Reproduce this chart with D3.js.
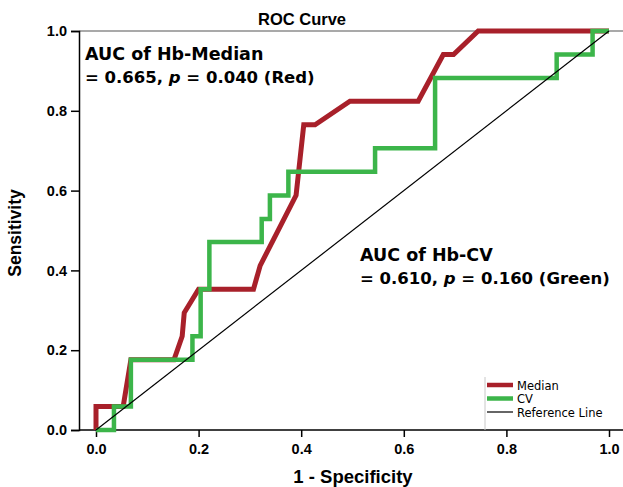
<!DOCTYPE html>
<html>
<head>
<meta charset="utf-8">
<script src="https://cdn.jsdelivr.net/npm/d3@7"></script>
<style>
  body { margin: 0; background: #fff; }
</style>
</head>
<body>
<svg id="roc" width="623" height="487" font-family="Arial, 'Liberation Sans', sans-serif"></svg>
<script>
// ROC data
var medianFpr = [0, 0, 0.053, 0.068, 0.152, 0.168, 0.172, 0.2, 0.307, 0.32, 0.39, 0.405, 0.427, 0.495, 0.628, 0.677, 0.697, 0.745, 1];
var medianTpr = [0, 0.059, 0.059, 0.176, 0.176, 0.235, 0.294, 0.353, 0.353, 0.412, 0.588, 0.765, 0.765, 0.824, 0.824, 0.941, 0.941, 1, 1];

var cvFpr = [0, 0.035, 0.035, 0.068, 0.068, 0.188, 0.188, 0.204, 0.204, 0.221, 0.221, 0.323, 0.323, 0.339, 0.339, 0.375, 0.375, 0.544, 0.544, 0.661, 0.661, 0.898, 0.898, 0.968, 0.968, 1];
var cvTpr = [0, 0, 0.059, 0.059, 0.176, 0.176, 0.235, 0.235, 0.353, 0.353, 0.471, 0.471, 0.529, 0.529, 0.588, 0.588, 0.647, 0.647, 0.706, 0.706, 0.882, 0.882, 0.941, 0.941, 1, 1];

var refFpr = [0, 1];
var refTpr = [0, 1];

var tickValues = [0, 0.2, 0.4, 0.6, 0.8, 1.0];
var legendLabels = ["Median", "CV", "Reference Line"];

var svg = d3.select('#roc');

var xScale = d3.scaleLinear().domain([0, 1]).range([96, 609]),
    yScale = d3.scaleLinear().domain([0, 1]).range([430, 31]);

function pts(xs, ys){ return xs.map(function(d, i){ return [d, ys[i]]; }); }

var line = d3.line()
    .x(function(d){ return xScale(d[0]); })
    .y(function(d){ return yScale(d[1]); });

/* Titulo */
svg.append("text")
    .attr("x", 302)
    .attr("y", 25)
    .attr("text-anchor", "middle")
    .attr("font-size", "16.5px")
    .attr("font-weight", "bold")
    .text("ROC Curve");

// frame: top line
svg.append("line")
    .attr("x1", 79).attr("x2", 623)
    .attr("y1", yScale(1)).attr("y2", yScale(1))
    .attr("stroke", "#8c8c8c").attr("stroke-width", 1.5);

// y axis
var yAxis = svg.append('g')
    .attr('transform', 'translate(79,0)')
    .call(d3.axisLeft(yScale).tickValues(tickValues).tickSize(8).tickFormat(d3.format(".1f")));
yAxis.select(".domain").attr("stroke", "#000").attr("stroke-width", 1.5);
yAxis.selectAll(".tick line").attr("stroke-width", 1.5);
yAxis.selectAll("text")
    .attr("font-size", "14.5px").attr("font-weight", "bold").attr("font-family", "Arial, sans-serif")
    .attr("x", -12).attr("fill", "#000");

// x axis
var xAxis = svg.append('g')
    .attr('transform', 'translate(0,430)')
    .call(d3.axisBottom(xScale).tickValues(tickValues).tickSize(7).tickFormat(d3.format(".1f")));
xAxis.select(".domain").attr("d", "M79,0H623").attr("stroke-width", 1.5);
xAxis.selectAll(".tick line").attr("stroke-width", 1.5);
xAxis.selectAll("text")
    .attr("font-size", "14.5px").attr("font-weight", "bold").attr("font-family", "Arial, sans-serif")
    .attr("y", 14).attr("fill", "#000");

// axis titles
svg.append("text")
    .attr("transform", "translate(21,233) rotate(-90)")
    .attr("text-anchor", "middle")
    .attr("font-size", "17.5px")
    .attr("font-weight", "bold")
    .text("Sensitivity");

svg.append("text")
    .attr("x", 353)
    .attr("y", 483)
    .attr("text-anchor", "middle")
    .attr("font-size", "18.5px")
    .attr("font-weight", "bold")
    .text("1 - Specificity");

// curves
svg.append("path")
    .attr("d", line(pts(medianFpr, medianTpr)))
    .attr("fill", "none").attr("stroke", "#a8202a").attr("stroke-width", 5)
    .attr("stroke-linejoin", "miter");

svg.append("path")
    .attr("d", line(pts(cvFpr, cvTpr)))
    .attr("fill", "none").attr("stroke", "#3cb54a").attr("stroke-width", 4.5)
    .attr("stroke-linejoin", "miter");

svg.append("path")
    .attr("d", line(pts(refFpr, refTpr)))
    .attr("fill", "none").attr("stroke", "#000").attr("stroke-width", 1.2);

// AUC annotations
function annot(x, y, l1, auc, p, col){
    svg.append("text")
        .attr("x", x).attr("y", y)
        .attr("font-size", "17.5px").attr("font-weight", "bold")
        .attr("font-family", "'DejaVu Sans', sans-serif")
        .text(l1);
    var t = svg.append("text")
        .attr("x", x).attr("y", y + 23)
        .attr("font-size", "16.5px").attr("font-weight", "bold")
        .attr("font-family", "'DejaVu Sans', sans-serif");
    t.append("tspan").text("= " + auc + ", ");
    t.append("tspan").attr("font-style", "italic").text("p");
    t.append("tspan").text(" = " + p + " (" + col + ")");
}
annot(85, 60, "AUC of Hb-Median", "0.665", "0.040", "Red");
annot(360, 261, "AUC of Hb-CV", "0.610", "0.160", "Green");

// legend
var legendColors = ["#a8202a", "#3cb54a", "#000"],
    legendWidths = [4.5, 4.5, 1.2];

svg.append("line")
    .attr("x1", 485).attr("x2", 485).attr("y1", 377).attr("y2", 430)
    .attr("stroke", "#c8c8c8").attr("stroke-width", 1);

var lg = svg.selectAll(".leg")
    .data(legendLabels)
    .enter().append("g")
    .attr("class", "leg")
    .attr("transform", function(d, i){ return "translate(487," + (385 + i * 13.5) + ")"; });

lg.append("line")
    .attr("x1", 0).attr("x2", 26)
    .attr("stroke", function(d, i){ return legendColors[i]; })
    .attr("stroke-width", function(d, i){ return legendWidths[i]; });

lg.append("text")
    .attr("x", 30).attr("y", 4.5)
    .attr("font-size", "11.5px")
    .attr("font-family", "'DejaVu Sans', sans-serif")
    .text(function(d){ return d; });
</script>
</body>
</html>
